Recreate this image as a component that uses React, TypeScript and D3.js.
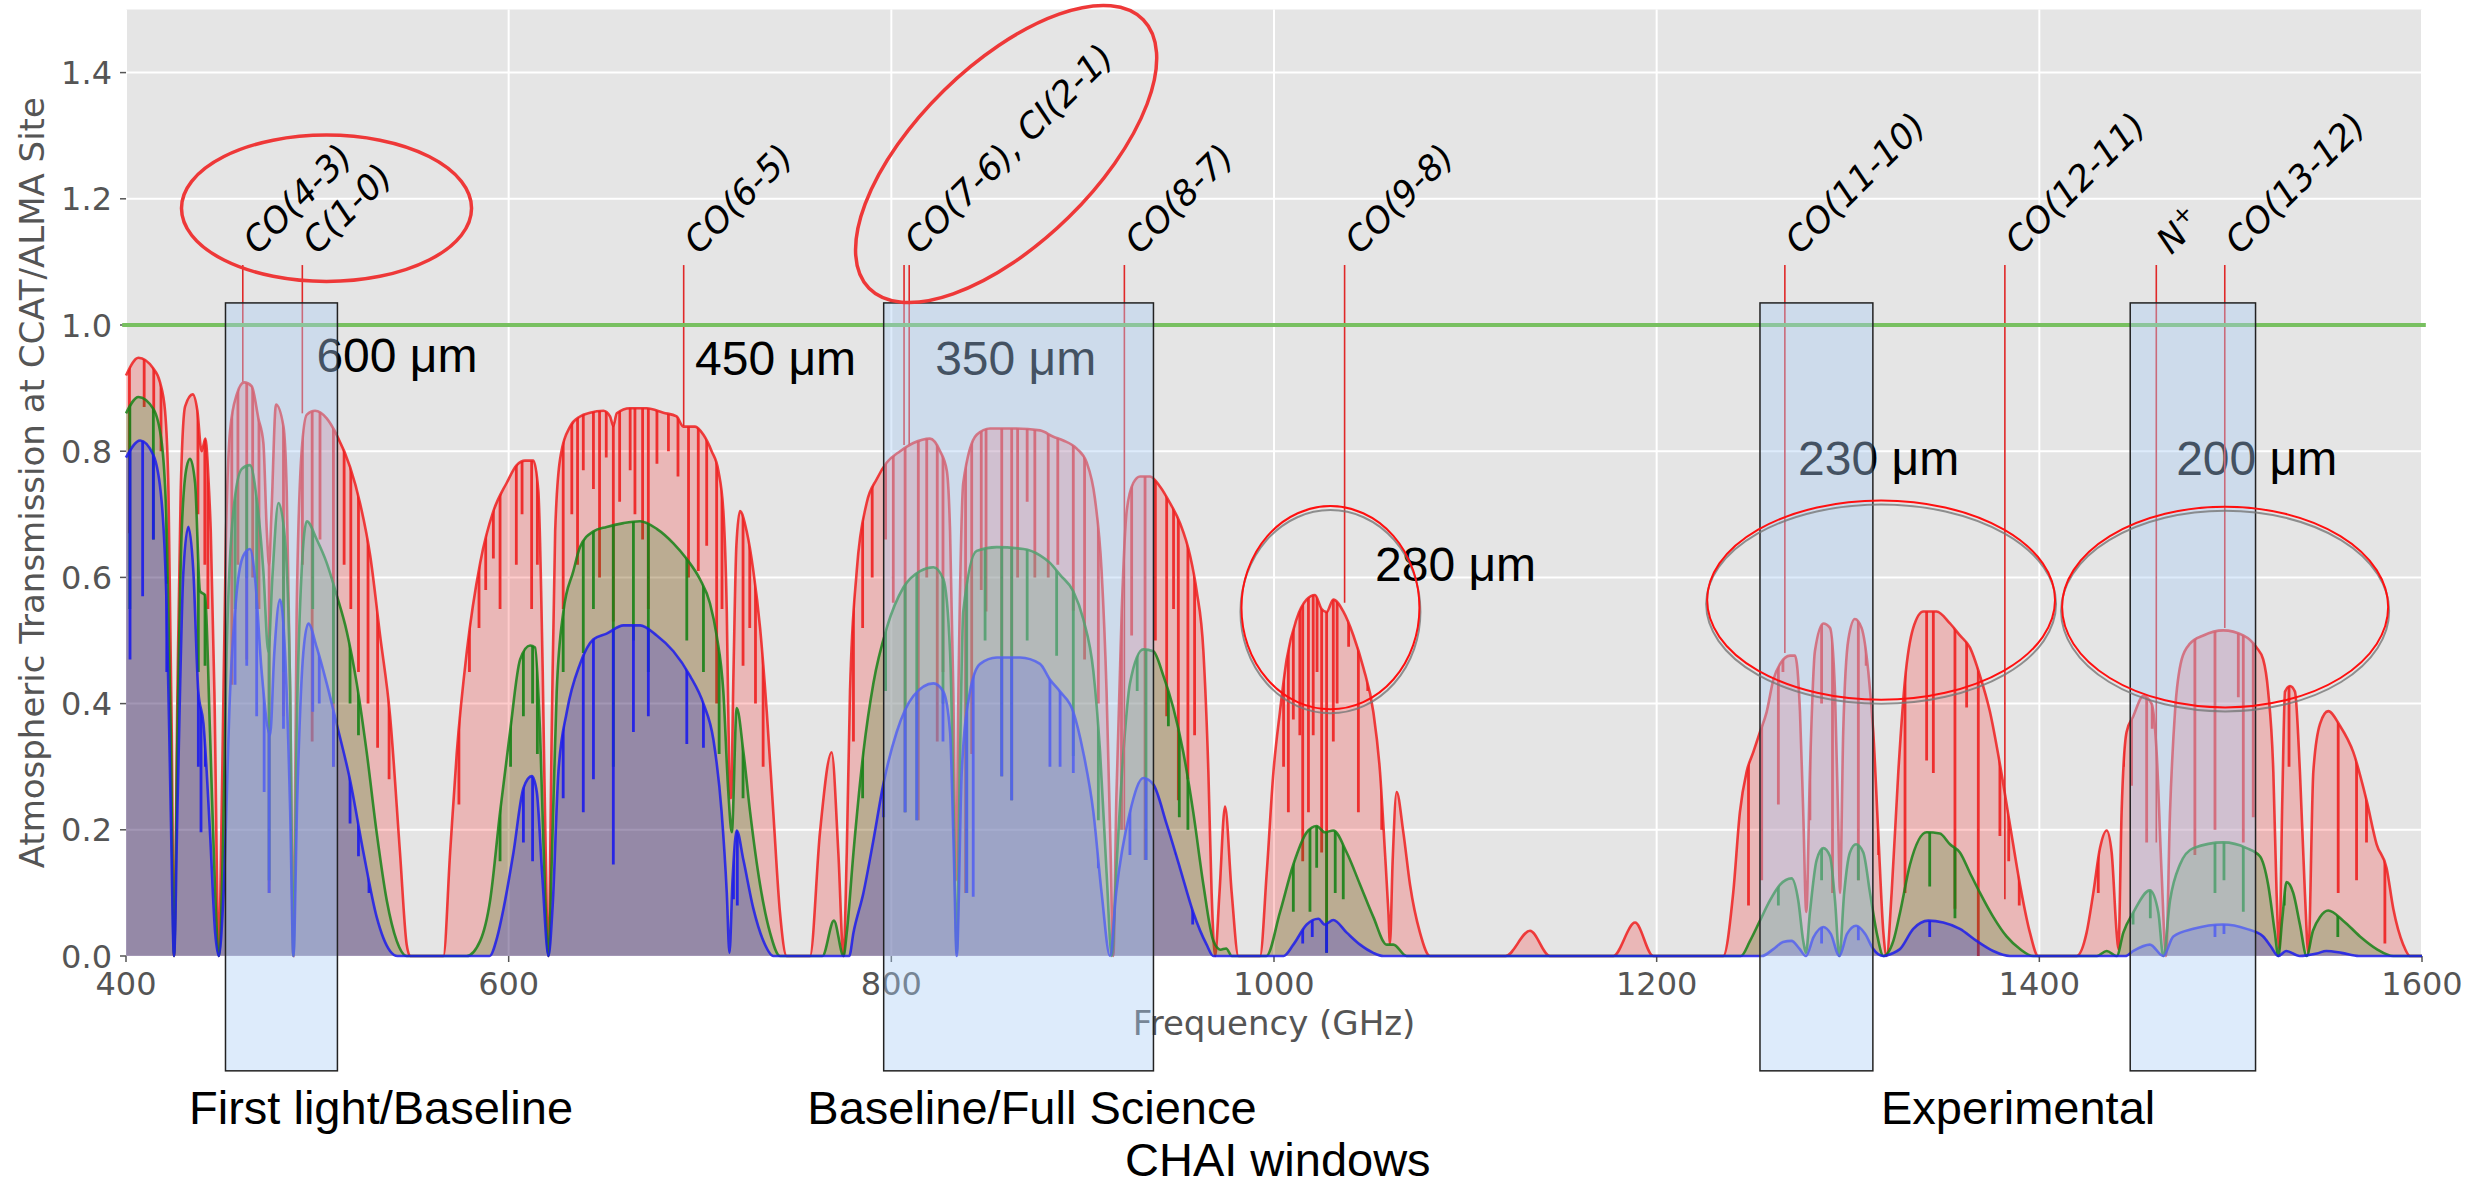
import React, { useEffect, useRef } from 'react';
import * as d3 from 'd3';

// transmission spectra [GHz, transmission] (envelope only)
const redSpectrum: [number, number][] = [
  [400, 0.92], [406.5, 0.948], [414.3, 0.931], [417.8, 0.909], [420.4, 0.864], [422.2, 0.737], [423.9, 0.355], [425.1, 0],
  [426.9, 0.419], [428.6, 0.737], [430.9, 0.871], [434.9, 0.89], [437.3, 0.864], [439.5, 0.8], [441.5, 0.82], [443.2, 0.75],
  [444.3, 0.673], [446.2, 0.419], [448.5, 0], [450, 0.228], [452.3, 0.673], [454.4, 0.833], [457.9, 0.89], [461.7, 0.909],
  [465.7, 0.903], [469.2, 0.852], [471.8, 0.813], [473.6, 0.673], [474.8, 0.62], [476, 0.7], [478.4, 0.874], [482.3, 0.839],
  [484, 0.737], [485.8, 0.419], [487.5, 0], [489.2, 0.546], [491.8, 0.8], [494.5, 0.858], [498.8, 0.864], [504.9, 0.852],
  [510.1, 0.826], [517.1, 0.775], [522.3, 0.718], [527.6, 0.635], [532.8, 0.508], [538, 0.381], [543.2, 0.164], [546.7, 0.018],
  [548.5, 0], [565.9, 0], [569.4, 0.164], [572.9, 0.323], [578.1, 0.482], [585.1, 0.623], [592, 0.705], [599, 0.75],
  [604.2, 0.778], [608.6, 0.785], [612.9, 0.785], [615.5, 0.737], [617.8, 0.45], [619.9, 0.069], [620.8, 0], [622.5, 0.355],
  [624.3, 0.673], [626.9, 0.788], [632.1, 0.839], [637.3, 0.855], [642.5, 0.861], [649.5, 0.864], [653, 0.855], [654.7, 0.84],
  [656.5, 0.86], [663.4, 0.868], [672.1, 0.868], [680.9, 0.861], [687.8, 0.855], [691.3, 0.839], [697.4, 0.839], [701.8, 0.826],
  [706.1, 0.8], [709.6, 0.769], [712.2, 0.705], [714, 0.546], [715.3, 0.292], [716.2, 0.25], [717.5, 0.45], [719, 0.65],
  [720.9, 0.705], [724.4, 0.673], [727.9, 0.61], [731.4, 0.52], [734.9, 0.387], [738.3, 0.228], [741.8, 0.069], [745.3, 0],
  [757.5, 0], [762.7, 0.196], [768.8, 0.323], [772.3, 0.164], [775, 0], [776.7, 0.164], [778.4, 0.419], [781.9, 0.61],
  [787.1, 0.718], [792.4, 0.756], [797.6, 0.782], [804.6, 0.8], [811.5, 0.813], [820.2, 0.82], [825.5, 0.8], [829, 0.769],
  [830.7, 0.673], [832.4, 0.419], [833.8, 0.12], [835.2, 0.45], [837.6, 0.75], [844.6, 0.826], [851.6, 0.836], [863.8, 0.836],
  [877.7, 0.833], [884.7, 0.823], [889.9, 0.817], [896.9, 0.804], [902.1, 0.782], [906.4, 0.725], [909.9, 0.61], [912.5, 0.419],
  [914.6, 0.164], [916, 0], [917.6, 0.25], [920.4, 0.546], [923, 0.705], [926.5, 0.75], [930, 0.76], [935.2, 0.76],
  [940.4, 0.744], [945.6, 0.718], [950.9, 0.686], [956.1, 0.635], [959.6, 0.578], [963.1, 0.483], [965.7, 0.292], [967.4, 0.1],
  [969.2, 0], [971.5, 0.1], [974.4, 0.237], [977.9, 0.1], [981.4, 0], [992.7, 0], [996.2, 0.132], [999.7, 0.292],
  [1003.1, 0.387], [1006.6, 0.47], [1011.8, 0.534], [1017.1, 0.565], [1021.4, 0.572], [1024.9, 0.55], [1027.5, 0.545], [1031, 0.565],
  [1036.2, 0.546], [1041.5, 0.508], [1046.7, 0.457], [1051.9, 0.387], [1055.4, 0.292], [1058, 0.164], [1059.8, 0.069], [1060.6, 0.02],
  [1062, 0.15], [1064.1, 0.26], [1067.6, 0.196], [1071.1, 0.113], [1076.3, 0.037], [1081.5, 0], [1121, 0], [1133.8, 0.04],
  [1144.2, 0], [1177.3, 0], [1188.7, 0.053], [1198.2, 0], [1234.8, 0], [1240, 0.1], [1243.5, 0.228], [1247, 0.292],
  [1250.5, 0.323], [1254, 0.355], [1257.5, 0.387], [1261, 0.438], [1264.5, 0.463], [1269.7, 0.476], [1272.3, 0.476], [1274.9, 0.387],
  [1276.6, 0.228], [1278.2, 0.07], [1280.1, 0.292], [1282.7, 0.483], [1287.1, 0.527], [1290.6, 0.52], [1293.2, 0.419], [1295, 0.196],
  [1295.8, 0.1], [1297.5, 0.355], [1300.2, 0.502], [1303.6, 0.534], [1307.1, 0.52], [1310.6, 0.451], [1313.2, 0.355], [1315.8, 0.196],
  [1318.5, 0.037], [1320.2, 0], [1322.8, 0.1], [1326.3, 0.292], [1329.8, 0.438], [1334.1, 0.52], [1339.4, 0.546], [1346.3, 0.546],
  [1353.3, 0.527], [1358.5, 0.508], [1363.7, 0.489], [1369, 0.444], [1374.2, 0.387], [1379.4, 0.304], [1384.6, 0.209], [1389.9, 0.113],
  [1395.1, 0.037], [1399.4, 0], [1419.5, 0], [1424.7, 0.037], [1428.2, 0.1], [1431.7, 0.171], [1435.2, 0.199], [1437.8, 0.164],
  [1440.4, 0.037], [1441.3, 0.011], [1443, 0.228], [1445.6, 0.355], [1449.1, 0.38], [1454.3, 0.412], [1458.7, 0.4], [1461.3, 0.323],
  [1463.9, 0.132], [1466.2, 0], [1468.3, 0.228], [1470.9, 0.387], [1474.4, 0.47], [1478.7, 0.495], [1485.7, 0.508], [1496.1, 0.516],
  [1506.6, 0.508], [1513.5, 0.489], [1517, 0.47], [1519.6, 0.419], [1522.3, 0.292], [1524, 0.1], [1525.4, 0.011], [1527, 0.25],
  [1528.4, 0.419], [1531, 0.428], [1533.6, 0.419], [1536.2, 0.292], [1538.8, 0.1], [1540.6, 0.005], [1543.2, 0.292], [1546.7, 0.368],
  [1551, 0.388], [1557.1, 0.365], [1564.1, 0.323], [1571, 0.247], [1576.3, 0.177], [1581.5, 0.139], [1585, 0.075], [1590.2, 0.018],
  [1593.7, 0], [1600, 0],
];

const greenSpectrum: [number, number][] = [
  [400, 0.86], [406.5, 0.886], [414.3, 0.867], [418.7, 0.813], [421.3, 0.673], [423.4, 0.355], [425.1, 0], [426.9, 0.355],
  [429.1, 0.673], [431.7, 0.775], [433.5, 0.788], [436.1, 0.75], [438.7, 0.578], [441.3, 0.572], [443.9, 0.355], [446.6, 0.1],
  [448.5, 0], [450.5, 0.15], [452.6, 0.482], [456.1, 0.705], [460.5, 0.772], [464.8, 0.778], [468.3, 0.725], [471.8, 0.61],
  [474.4, 0.482], [476.5, 0.6], [479.7, 0.718], [483.1, 0.66], [485.8, 0.419], [487.5, 0], [489.2, 0.355], [491.8, 0.61],
  [494.5, 0.689], [499.7, 0.66], [504.9, 0.623], [510.1, 0.572], [515.4, 0.514], [520.6, 0.432], [525.8, 0.323], [531, 0.196],
  [536.3, 0.088], [541.5, 0.024], [546.7, 0], [578, 0], [585.1, 0.024], [590.3, 0.088], [595.5, 0.228], [600.7, 0.355],
  [606, 0.47], [611.2, 0.492], [613.8, 0.489], [616.4, 0.355], [619, 0.1], [620.8, 0], [622.5, 0.15], [625.1, 0.419],
  [628.6, 0.546], [633.8, 0.61], [637.3, 0.648], [644.3, 0.673], [651.2, 0.68], [660, 0.686], [668.7, 0.689], [677.4, 0.677],
  [686.1, 0.654], [693.1, 0.629], [700, 0.597], [705.2, 0.559], [708.7, 0.508], [712.2, 0.419], [714.8, 0.26], [716.6, 0.196],
  [719.2, 0.393], [722.7, 0.323], [726.2, 0.228], [731.4, 0.113], [736.6, 0.037], [741.8, 0], [764, 0], [770, 0.056],
  [775, 0], [776.7, 0.037], [780.2, 0.164], [785.4, 0.323], [790.6, 0.432], [797.6, 0.52], [806.3, 0.584], [815, 0.61],
  [822, 0.616], [827.2, 0.597], [830.7, 0.482], [832.8, 0.2], [834.2, 0.005], [835.8, 0.3], [837.6, 0.546], [844.6, 0.642],
  [855.1, 0.648], [869, 0.645], [877.7, 0.635], [882.9, 0.623], [888.2, 0.604], [895.1, 0.578], [900.3, 0.534], [905.6, 0.451],
  [909.1, 0.323], [912.5, 0.132], [915.2, 0], [917.5, 0.132], [921.3, 0.323], [924.7, 0.432], [931.7, 0.486], [936.9, 0.483],
  [942.2, 0.444], [947.4, 0.393], [952.6, 0.323], [957.8, 0.228], [963.1, 0.113], [968.3, 0.024], [972, 0.01], [975, 0.012],
  [978, 0], [996, 0], [1003.1, 0.069], [1010.1, 0.145], [1017.1, 0.196], [1022.3, 0.206], [1026.5, 0.196], [1031, 0.199],
  [1038, 0.164], [1045, 0.113], [1051.9, 0.062], [1058.9, 0.018], [1062.4, 0.018], [1069.3, 0], [1244, 0], [1248.8, 0.024],
  [1254, 0.056], [1259.2, 0.088], [1264.5, 0.113], [1270.5, 0.123], [1274, 0.088], [1276.6, 0.024], [1278, 0.005], [1280.1, 0.069],
  [1283.6, 0.152], [1287.1, 0.171], [1290.6, 0.158], [1293.2, 0.088], [1295.5, 0], [1298, 0.1], [1301, 0.164], [1304.2, 0.177],
  [1308, 0.164], [1311.5, 0.1], [1315, 0.037], [1318.5, 0], [1323.7, 0.024], [1327.2, 0.069], [1332.4, 0.145], [1341.1, 0.196],
  [1348, 0.194], [1353.3, 0.177], [1358.5, 0.164], [1363.7, 0.132], [1369, 0.1], [1375.9, 0.062], [1382.9, 0.031], [1389.9, 0.011],
  [1396.8, 0], [1430, 0], [1435.2, 0.008], [1440.5, 0], [1443.9, 0.037], [1449.1, 0.069], [1457.8, 0.104], [1462.2, 0.069],
  [1464.8, 0], [1468.3, 0.088], [1473.5, 0.145], [1480.5, 0.171], [1496.1, 0.18], [1508.3, 0.171], [1515.3, 0.158], [1519.6, 0.113],
  [1523.1, 0.037], [1524.9, 0], [1527, 0.06], [1529.2, 0.117], [1532.7, 0.1], [1536.2, 0.05], [1539.7, 0], [1543, 0.04],
  [1546.7, 0.062], [1551, 0.072], [1558.8, 0.056], [1567.6, 0.031], [1576.3, 0.011], [1585, 0], [1600, 0],
];

const blueSpectrum: [number, number][] = [
  [400, 0.79], [407.4, 0.817], [414.3, 0.794], [418.7, 0.718], [421.3, 0.546], [423.4, 0.228], [425.1, 0], [427, 0.25],
  [430, 0.61], [432.6, 0.68], [435.2, 0.61], [437.8, 0.419], [440.5, 0.368], [443.9, 0.196], [446.6, 0.037], [448.5, 0],
  [451, 0.1], [454.4, 0.419], [457.9, 0.578], [461.4, 0.635], [464.8, 0.645], [467.5, 0.597], [470.9, 0.451], [475.3, 0.35],
  [477.5, 0.48], [480.5, 0.565], [483.1, 0.482], [485.8, 0.23], [487.5, 0], [489.5, 0.25], [492.7, 0.482], [495.3, 0.527],
  [499.7, 0.489], [504.9, 0.432], [510.1, 0.368], [517.1, 0.279], [524.1, 0.164], [531, 0.062], [538, 0.008], [542, 0],
  [590, 0], [594, 0.03], [597.3, 0.075], [602.5, 0.164], [607.7, 0.266], [612.1, 0.285], [614.7, 0.26], [617.5, 0.13],
  [620.8, 0], [623, 0.08], [626, 0.292], [630.4, 0.387], [637.3, 0.463], [644.3, 0.502], [651.2, 0.511], [660, 0.524],
  [668.7, 0.524], [677.4, 0.508], [686.1, 0.483], [694.8, 0.444], [701.8, 0.4], [707, 0.343], [711.3, 0.228], [714, 0.1],
  [715.4, 0.005], [717, 0.12], [719.2, 0.199], [722.7, 0.152], [727.9, 0.075], [733.1, 0.024], [738.3, 0], [778, 0],
  [780.2, 0.037], [785.4, 0.1], [790.6, 0.183], [795.8, 0.272], [802.8, 0.355], [811.5, 0.412], [822, 0.432], [827.2, 0.419],
  [830.7, 0.355], [832.5, 0.18], [834.2, 0], [836.8, 0.292], [841.1, 0.419], [846.4, 0.463], [855.1, 0.473], [867.3, 0.473],
  [877.7, 0.463], [882.9, 0.438], [888.2, 0.419], [895.1, 0.387], [900.3, 0.323], [905.6, 0.228], [909.9, 0.1], [914.3, 0],
  [917.5, 0.1], [924.7, 0.228], [931.7, 0.282], [936.9, 0.272], [943.9, 0.209], [950.9, 0.139], [957.8, 0.069], [964.8, 0.018],
  [968.3, 0], [1005, 0], [1010.1, 0.018], [1017.1, 0.05], [1023.2, 0.059], [1026.5, 0.05], [1031, 0.057], [1038, 0.037],
  [1045, 0.018], [1051.9, 0.005], [1057.2, 0], [1255, 0], [1261, 0.011], [1266, 0.022], [1270.5, 0.024], [1274.5, 0.012],
  [1278, 0], [1282, 0.03], [1287.1, 0.046], [1291, 0.035], [1295.5, 0], [1299.5, 0.035], [1304.2, 0.048], [1309, 0.035],
  [1313, 0.012], [1318.5, 0], [1323, 0.004], [1327.2, 0.011], [1334.1, 0.043], [1342, 0.056], [1349.8, 0.053], [1358.5, 0.043],
  [1367.2, 0.024], [1375.9, 0.008], [1384.6, 0], [1445, 0], [1449.1, 0.008], [1457.8, 0.018], [1464.8, 0], [1470, 0.031],
  [1480.5, 0.043], [1496.1, 0.05], [1508.3, 0.043], [1517, 0.031], [1521, 0.015], [1524.9, 0], [1529, 0.008], [1536, 0],
  [1545, 0.004], [1550, 0.008], [1558, 0.005], [1567, 0], [1600, 0],
];

// narrow absorption dips [GHz, lowest transmission]
const redDips: [number, number][] = [
  [401.8, 0.67], [409.5, 0.87], [414.5, 0.86], [418.3, 0.8], [437.6, 0.7], [441.2, 0.62], [442.8, 0.55], [455.3, 0.43],
  [458.5, 0.62], [463.1, 0.47], [466.2, 0.6], [469.5, 0.55], [474.8, 0.1], [482.3, 0.38], [492.2, 0.62], [497.3, 0.34],
  [501.4, 0.66], [508.4, 0.3], [514, 0.62], [517.5, 0.55], [521.5, 0.45], [526.5, 0.4], [531.5, 0.33], [537.5, 0.28],
  [574, 0.24], [579.5, 0.45], [584.5, 0.52], [588, 0.58], [592, 0.63], [595.5, 0.55], [604, 0.62], [607, 0.7],
  [612, 0.55], [615, 0.62], [628.5, 0.55], [633, 0.7], [636, 0.62], [639, 0.77], [644.3, 0.74], [647.5, 0.6],
  [651, 0.79], [654.7, 0.53], [658, 0.72], [663.5, 0.77], [666, 0.7], [670, 0.66], [673, 0.55], [677.5, 0.78],
  [683.5, 0.8], [688.5, 0.76], [694, 0.6], [699.1, 0.61], [703.5, 0.65], [708.7, 0.4], [711.5, 0.55], [722.5, 0.46],
  [726, 0.52], [729, 0.4], [733, 0.3], [780.2, 0.34], [785, 0.52], [790, 0.6], [797, 0.66], [801, 0.56],
  [807.2, 0.228], [814.1, 0.215], [818.5, 0.6], [824, 0.34], [827, 0.45], [838.8, 0.1], [842, 0.32], [847, 0.58],
  [849.5, 0.546], [857.7, 0.285], [862.9, 0.247], [866, 0.6], [871, 0.72], [875, 0.6], [882, 0.6], [887, 0.62],
  [895.1, 0.547], [901, 0.47], [908.2, 0.4], [920.3, 0.2], [925.6, 0.508], [932.6, 0.152], [938, 0.5], [943.9, 0.38],
  [947.5, 0.55], [950, 0.247], [955, 0.28], [958.5, 0.35], [1005, 0.3], [1007.5, 0.228], [1010.1, 0.375], [1013.5, 0.35],
  [1015, 0.15], [1018, 0.228], [1020.5, 0.35], [1022.5, 0.45], [1024.9, 0.164], [1027.5, 0.005], [1031, 0.34], [1033, 0.4],
  [1039, 0.49], [1044.1, 0.228], [1049, 0.42], [1056.3, 0.2], [1248, 0.08], [1254.9, 0.12], [1263.6, 0.24], [1266, 0.45],
  [1280.1, 0.215], [1286.2, 0.4], [1291.9, 0.1], [1305.4, 0.12], [1309.5, 0.46], [1316, 0.16], [1329.8, 0.1], [1341.1, 0.31],
  [1344.6, 0.29], [1355.9, 0.075], [1362, 0.394], [1368.1, 0], [1379.4, 0.19], [1384, 0.15], [1389.5, 0.08], [1430.8, 0.1],
  [1443.9, 0.3], [1448.2, 0.27], [1456.1, 0.18], [1459, 0.36], [1481.3, 0.16], [1491.8, 0.2], [1504, 0.41], [1506.6, 0.18],
  [1511.8, 0.22], [1530.5, 0.3], [1556.2, 0.1], [1565.8, 0.12], [1571, 0.18], [1580.6, 0.02],
];

const greenDips: [number, number][] = [
  [402, 0.55], [414.3, 0.66], [421.3, 0.59], [437.8, 0.45], [441.3, 0.46], [457, 0.55], [463.1, 0.6], [468.3, 0.55],
  [474.8, 0.12], [482.3, 0.45], [497.6, 0.55], [508.4, 0.4], [517.1, 0.4], [521.5, 0.35], [595.5, 0.15], [601, 0.3],
  [607.7, 0.38], [612.5, 0.4], [615, 0.32], [628.5, 0.45], [639, 0.48], [644.3, 0.55], [654.7, 0.3], [665.2, 0.5],
  [673, 0.45], [693.1, 0.5], [701.8, 0.45], [710, 0.32], [722.5, 0.25], [785, 0.25], [797, 0.42], [807.2, 0.228],
  [813.3, 0.215], [827, 0.4], [839.4, 0.1], [849, 0.5], [857.7, 0.285], [862.9, 0.247], [871, 0.5], [886.4, 0.476],
  [895.1, 0.317], [908.2, 0.215], [928.5, 0.42], [933.1, 0.152], [944.8, 0.364], [950.5, 0.22], [955, 0.2], [1010.1, 0.07],
  [1018.8, 0.07], [1022.3, 0.14], [1027.5, 0.005], [1032, 0.1], [1036.2, 0.09], [1263.6, 0.08], [1286.2, 0.12], [1305.4, 0.12],
  [1342.7, 0.11], [1355.9, 0.06], [1449, 0.05], [1458, 0.06], [1491.8, 0.1], [1496.5, 0.12], [1506.6, 0.07], [1528, 0.08],
  [1556, 0.03],
];

const blueDips: [number, number][] = [
  [402.1, 0.47], [408.7, 0.57], [414.3, 0.66], [421.3, 0.45], [437.8, 0.3], [439.2, 0.196], [441.5, 0.3], [457, 0.43],
  [463.1, 0.46], [468.3, 0.38], [472.2, 0.26], [474.8, 0.1], [482.3, 0.36], [497.6, 0.387], [501, 0.4], [508.4, 0.3],
  [517.1, 0.21], [521.5, 0.158], [527, 0.1], [607.7, 0.18], [612.5, 0.15], [628.5, 0.25], [639, 0.228], [644.3, 0.28],
  [654.7, 0.145], [665.2, 0.355], [673, 0.38], [693.1, 0.336], [701.8, 0.33], [717.5, 0.09], [719.5, 0.08], [796, 0.22],
  [807.2, 0.228], [813.3, 0.215], [827, 0.34], [839.4, 0.1], [842.8, 0.094], [857.7, 0.285], [862.9, 0.247], [882.9, 0.3],
  [888.2, 0.3], [895.1, 0.29], [908.2, 0.139], [924.7, 0.16], [933.1, 0.152], [944.8, 0.22], [949, 0.16], [954, 0.13],
  [957.5, 0.05], [1015, 0.02], [1020, 0.03], [1027.5, 0.005], [1286.2, 0.02], [1305.4, 0.025], [1342.7, 0.03], [1491.8, 0.03],
  [1496.5, 0.035],
];

// spectral lines (GHz) and where each marker stops
const lineFreqs = [461.04, 492.16, 691.47, 806.65, 809.34, 921.8, 1036.9, 1267.0, 1381.99, 1461.13, 1496.92];
const lineEnds = [0.91, 0.86, 0.84, 0.81, 0.81, 0.2, 0.56, 0.48, 0.09, 0.18, 0.52];
const labelTexts = ['CO(4-3)', 'C(1-0)', 'CO(6-5)', 'CO(7-6), CI(2-1)', 'CO(8-7)', 'CO(9-8)', 'CO(11-10)', 'CO(12-11)', 'N+', 'CO(13-12)'];
const labelFreqs = [461.04, 492.16, 691.47, 806.65, 921.8, 1036.9, 1267.0, 1381.99, 1461.13, 1496.92];

// CHAI windows
const windowLo = [452, 796, 1254, 1447.5];
const windowHi = [510.5, 937, 1313, 1513];
const windowLabels = ['600 μm', '450 μm', '350 μm', '280 μm', '230 μm', '200 μm'];
const windowLabelPos: [number, number][] = [[499.5, 0.925], [697.4, 0.921], [822.9, 0.921], [1052.8, 0.594], [1273.9, 0.762], [1471.5, 0.762]];
const groupLabels = ['First light/Baseline', 'Baseline/Full Science', 'Experimental'];
const groupCenters = [533.3, 873.5, 1388.9];

// hand-drawn rings: centre [GHz, T], radii [GHz, T], tilt
const ringCenters: [number, number][] = [[504.8, 1.185], [860, 1.271], [1029.5, 0.552], [1317.3, 0.564], [1497.1, 0.553]];
const ringRadii: [number, number][] = [[75.8, 0.116], [100.3, 0.141], [46.5, 0.161], [90.9, 0.158], [85.2, 0.159]];
const ringTilt = [0, -44.4, 0, 0, 0];

const xTicks = [400, 600, 800, 1000, 1200, 1400, 1600];
const yTicks = [0, 0.2, 0.4, 0.6, 0.8, 1.0, 1.2, 1.4];

const W = 2474;
const H = 1189;

const Chart = () => {
  const svgRef = useRef(null);

  useEffect(() => {
    const svg = d3.select(svgRef.current);
    svg.selectAll('*').remove();

    const x = d3.scaleLinear().domain([400, 1600]).range([126, 2422]);
    const y = d3.scaleLinear().domain([0, 1.5]).range([956, 9.5]);

    svg.append('rect').attr('width', W).attr('height', H).attr('fill', '#fff');

    // plot background + grid
    svg.append('rect')
      .attr('x', x(400)).attr('y', y(1.5))
      .attr('width', x(1600) - x(400)).attr('height', y(0) - y(1.5))
      .attr('fill', '#e5e5e5');

    svg.selectAll('.vgrid').data(xTicks).enter().append('line')
      .attr('x1', d => x(d)).attr('x2', d => x(d))
      .attr('y1', y(0)).attr('y2', y(1.5))
      .style('stroke', '#fff').style('stroke-width', '2px');
    svg.selectAll('.hgrid').data(yTicks).enter().append('line')
      .attr('x1', x(400)).attr('x2', x(1600))
      .attr('y1', d => y(d)).attr('y2', d => y(d))
      .style('stroke', '#fff').style('stroke-width', '2px');

    // ticks
    svg.selectAll('.xtick').data(xTicks).enter().append('line')
      .attr('x1', d => x(d)).attr('x2', d => x(d))
      .attr('y1', y(0)).attr('y2', y(0) + 6)
      .style('stroke', '#555').style('stroke-width', '1.5px');
    svg.selectAll('.xlab').data(xTicks).enter().append('text')
      .attr('x', d => x(d)).attr('y', 995)
      .attr('text-anchor', 'middle')
      .style('font-family', 'DejaVu Sans').style('font-size', '32px').style('fill', '#555')
      .text(d => d);
    svg.selectAll('.ytick').data(yTicks).enter().append('line')
      .attr('x1', x(400) - 6).attr('x2', x(400))
      .attr('y1', d => y(d)).attr('y2', d => y(d))
      .style('stroke', '#555').style('stroke-width', '1.5px');
    svg.selectAll('.ylab').data(yTicks).enter().append('text')
      .attr('x', 112).attr('y', d => y(d))
      .attr('dy', '0.36em')
      .attr('text-anchor', 'end')
      .style('font-family', 'DejaVu Sans').style('font-size', '32px').style('fill', '#555')
      .text(d => d.toFixed(1));

    svg.append('text')
      .attr('x', (x(400) + x(1600)) / 2).attr('y', 1035)
      .attr('text-anchor', 'middle')
      .style('font-family', 'DejaVu Sans').style('font-size', '34px').style('fill', '#555')
      .text('Frequency (GHz)');
    svg.append('text')
      .attr('transform', `translate(44, ${(y(0) + y(1.5)) / 2}) rotate(-90)`)
      .attr('text-anchor', 'middle')
      .style('font-family', 'DejaVu Sans').style('font-size', '34px').style('fill', '#555')
      .text('Atmospheric Transmission at CCAT/ALMA Site');

    // spectra
    const area = d3.area<[number, number]>()
      .x(d => x(d[0])).y0(y(0)).y1(d => y(d[1]))
      .curve(d3.curveMonotoneX);
    const line = d3.line<[number, number]>()
      .x(d => x(d[0])).y(d => y(d[1]))
      .curve(d3.curveMonotoneX);

    const series = [
      { id: 'red', data: redSpectrum, dips: redDips, fill: 'rgb(255,0,0)', stroke: 'rgb(238,32,32)' },
      { id: 'green', data: greenSpectrum, dips: greenDips, fill: 'rgb(0,128,0)', stroke: 'rgb(24,130,24)' },
      { id: 'blue', data: blueSpectrum, dips: blueDips, fill: 'rgb(0,0,255)', stroke: 'rgb(28,28,235)' },
    ];
    const defs = svg.append('defs');
    series.forEach(s => {
      defs.append('clipPath').attr('id', `clip-${s.id}`)
        .append('path').attr('d', area(s.data));
    });
    series.forEach(s => {
      const g = svg.append('g');
      g.append('path').attr('d', area(s.data))
        .style('fill', s.fill).style('fill-opacity', 0.2);
      g.append('g').attr('clip-path', `url(#clip-${s.id})`)
        .selectAll('line').data(s.dips).enter().append('line')
        .attr('x1', d => x(d[0])).attr('x2', d => x(d[0]))
        .attr('y1', d => y(d[1])).attr('y2', y(1.2))
        .style('stroke', s.stroke).style('stroke-width', '2.8px').style('stroke-opacity', 0.9);
      g.append('path').attr('d', line(s.data))
        .style('fill', 'none').style('stroke', s.stroke)
        .style('stroke-width', '2.6px').style('stroke-opacity', 0.85);
    });

    // wavelength labels
    svg.selectAll('.wl').data(windowLabels).enter().append('text')
      .attr('x', (d, i) => x(windowLabelPos[i][0]))
      .attr('y', (d, i) => y(windowLabelPos[i][1]))
      .style('font-family', 'Liberation Sans').style('font-size', '48px').style('fill', '#000')
      .text(d => d);

    // spectral line markers
    svg.selectAll('.marker').data(lineFreqs).enter().append('line')
      .attr('x1', d => x(d)).attr('x2', d => x(d))
      .attr('y1', y(1.095)).attr('y2', (d, i) => y(lineEnds[i]))
      .style('stroke', '#e02828').style('stroke-width', '1.6px');

    labelTexts.forEach((t, i) => {
      const lx = x(labelFreqs[i]) + 15;
      const ly = y(1.11);
      const txt = svg.append('text')
        .attr('transform', `translate(${lx}, ${ly}) rotate(-45)`)
        .style('font-family', 'DejaVu Sans').style('font-style', 'italic')
        .style('font-size', '35px').style('fill', '#000');
      if (t === 'N+') {
        txt.append('tspan').text('N');
        txt.append('tspan').attr('dy', '-0.55em').style('font-size', '24px').text('+');
      } else {
        txt.text(t);
      }
    });

    // limit line
    svg.append('line')
      .attr('x1', x(398)).attr('x2', x(1602))
      .attr('y1', y(1)).attr('y2', y(1))
      .style('stroke', '#78c060').style('stroke-width', '4px');

    // CHAI windows
    svg.selectAll('.win').data(windowLo).enter().append('rect')
      .attr('x', d => x(d))
      .attr('y', y(1.035))
      .attr('width', (d, i) => x(windowHi[i]) - x(d))
      .attr('height', y(-0.182) - y(1.035))
      .style('fill', 'rgb(170,205,245)').style('fill-opacity', 0.4)
      .style('stroke', '#222').style('stroke-width', '1.5px');

    svg.selectAll('.grp').data(groupLabels).enter().append('text')
      .attr('x', (d, i) => x(groupCenters[i]))
      .attr('y', 1124)
      .attr('text-anchor', 'middle')
      .style('font-family', 'Liberation Sans').style('font-size', '47px').style('fill', '#000')
      .text(d => d);
    svg.append('text')
      .attr('x', x(1002)).attr('y', 1176)
      .attr('text-anchor', 'middle')
      .style('font-family', 'Liberation Sans').style('font-size', '47px').style('fill', '#000')
      .text('CHAI windows');

    // rings
    ringCenters.forEach((c, i) => {
      const cx = x(c[0]);
      const cy = y(c[1]);
      const rx = x(c[0] + ringRadii[i][0]) - cx;
      const ry = cy - y(c[1] + ringRadii[i][1]);
      if (i >= 2) {
        svg.append('ellipse')
          .attr('cx', cx).attr('cy', cy + 4).attr('rx', rx + 1).attr('ry', ry)
          .style('fill', 'none').style('stroke', '#777').style('stroke-width', '2px').style('stroke-opacity', 0.8);
        svg.append('ellipse')
          .attr('cx', cx).attr('cy', cy).attr('rx', rx).attr('ry', ry)
          .style('fill', 'none').style('stroke', '#ff1010').style('stroke-width', '2px');
      } else {
        svg.append('ellipse')
          .attr('cx', cx).attr('cy', cy).attr('rx', rx).attr('ry', ry)
          .attr('transform', `rotate(${ringTilt[i]}, ${cx}, ${cy})`)
          .style('fill', 'none').style('stroke', '#ee3838').style('stroke-width', '3.5px');
      }
    });
  }, []);

  return (
    <svg ref={svgRef} width={W} height={H} style={{ position: 'absolute', left: 0, top: 0, display: 'block' }}></svg>
  );
};

export default function App() {
  return <Chart />;
}
